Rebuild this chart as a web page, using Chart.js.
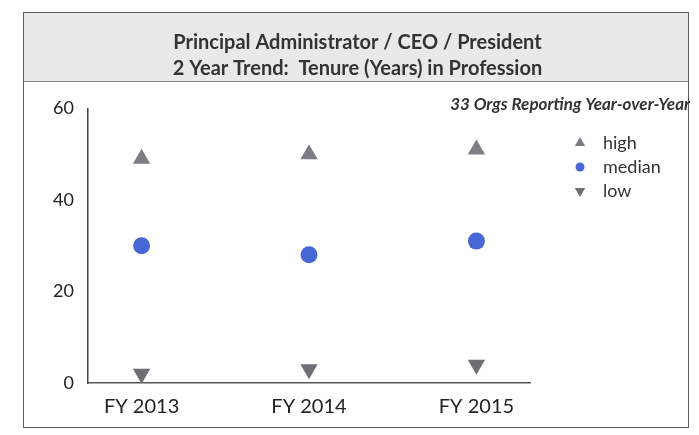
<!DOCTYPE html>
<html>
<head>
<meta charset="utf-8">
<script src="https://cdn.jsdelivr.net/npm/chart.js@4"></script>
<style>
  html, body { margin: 0; padding: 0; background: #fff; }
  #wrap { width: 699px; height: 435px; }
</style>
</head>
<body>
<div id="wrap"><canvas id="tenure-chart" width="699" height="435"></canvas></div>
<script>
// Tenure (years) in profession, principal administrator / CEO / president
const years = ['FY 2013', 'FY 2014', 'FY 2015'];
const high = [49, 50, 51];
const median = [30, 28, 31];
const low = [2, 3, 4];
const yTicks = [0, 20, 40, 60];

const toPoints = (values) => values.map((v, i) => ({ x: i, y: v }));

// grey title band + outer frame
const framePlugin = {
    id: 'frame',
    beforeDraw(chart) {
        const ctx = chart.ctx;
        ctx.save();
        ctx.fillStyle = '#ffffff';
        ctx.fillRect(0, 0, chart.width, chart.height);
        ctx.fillStyle = '#e9e9e9';
        ctx.fillRect(24, 13, 664, 68);
        ctx.strokeStyle = '#8a8a8a';
        ctx.lineWidth = 1;
        ctx.beginPath();
        ctx.moveTo(24, 81.5);
        ctx.lineTo(688, 81.5);
        ctx.stroke();
        ctx.strokeStyle = '#5a5a5a';
        ctx.strokeRect(23.5, 12.5, 665, 415);
        ctx.restore();
    }
};

// legend drawn beside the plot, to the right of the x axis end
const sideLegend = {
    id: 'sideLegend',
    afterDraw(chart) {
        const ctx = chart.ctx;
        const x = chart.chartArea.right + 50;
        ctx.save();
        ctx.font = '18px Lato';
        ctx.textBaseline = 'middle';
        chart.data.datasets.forEach((ds, i) => {
            const y = 143 + i * 24;
            ctx.fillStyle = ds.backgroundColor;
            Chart.helpers.drawPoint(ctx, {
                pointStyle: ds.pointStyle,
                rotation: ds.rotation || 0,
                radius: ds.pointStyle === 'circle' ? 4.5 : 6,
                borderWidth: 0
            }, x, y);
            ctx.fillStyle = '#333';
            ctx.fillText(ds.label, x + 23, y);
        });
        ctx.restore();
    }
};

const ctx = document.getElementById('tenure-chart').getContext('2d');
new Chart(ctx, {
    type: 'scatter',
    data: {
        datasets: [{
            label: 'high',
            data: toPoints(high),
            pointStyle: 'triangle',
            pointRadius: 10,
            pointHoverRadius: 10,
            backgroundColor: '#7d7d86',
            borderWidth: 0
        }, {
            label: 'median',
            data: toPoints(median),
            pointStyle: 'circle',
            pointRadius: 8.5,
            pointHoverRadius: 8.5,
            backgroundColor: '#4667d4',
            borderWidth: 0
        }, {
            label: 'low',
            data: toPoints(low),
            pointStyle: 'triangle',
            rotation: 180,
            pointRotation: 180,
            pointRadius: 10,
            pointHoverRadius: 10,
            backgroundColor: '#6e6e74',
            borderWidth: 0
        }]
    },
    options: {
        responsive: false,
        animation: false,
        layout: {
            padding: { left: 25, right: 9, top: 0, bottom: 17 }
        },
        plugins: {
            legend: { display: false },
            tooltip: { enabled: false },
            title: {
                display: true,
                text: ['Principal Administrator / CEO / President', '2 Year Trend:  Tenure (Years) in Profession'],
                color: '#333',
                font: { family: 'Lato', size: 20, weight: 'bold', lineHeight: 1.3 },
                padding: { top: 30, bottom: 4 }
            },
            subtitle: {
                display: true,
                text: '33 Orgs Reporting Year-over-Year',
                align: 'end',
                color: '#333',
                font: { family: 'Lato', size: 17, weight: 'bold', style: 'italic' },
                padding: { top: 8, bottom: -6 }
            }
        },
        scales: {
            x: {
                type: 'linear',
                min: -0.32,
                max: 2.32,
                afterBuildTicks: (scale) => {
                    scale.ticks = years.map((_, i) => ({ value: i }));
                },
                afterFit: (scale) => { scale.height = 35; },
                grid: { display: false },
                border: { display: true, color: '#555', width: 1.5 },
                ticks: {
                    padding: 4,
                    maxRotation: 0,
                    minRotation: 0,
                    color: '#222',
                    font: { family: 'Lato', size: 20 },
                    callback: (value) => years[value]
                }
            },
            y: {
                min: 0,
                max: 60,
                afterBuildTicks: (scale) => {
                    scale.ticks = yTicks.map((v) => ({ value: v }));
                },
                afterFit: (scale) => { scale.width = 63; },
                grid: { display: false },
                border: { display: true, color: '#444', width: 1.5 },
                ticks: {
                    padding: 6,
                    color: '#222',
                    font: { family: 'Lato', size: 18 }
                }
            },
            // empty right-hand axis keeping room for the legend
            legendSpace: {
                type: 'linear',
                position: 'right',
                grid: { display: false },
                border: { display: false },
                ticks: { display: false },
                afterFit: (scale) => { scale.width = 160; }
            }
        }
    },
    plugins: [framePlugin, sideLegend]
});
</script>
</body>
</html>
